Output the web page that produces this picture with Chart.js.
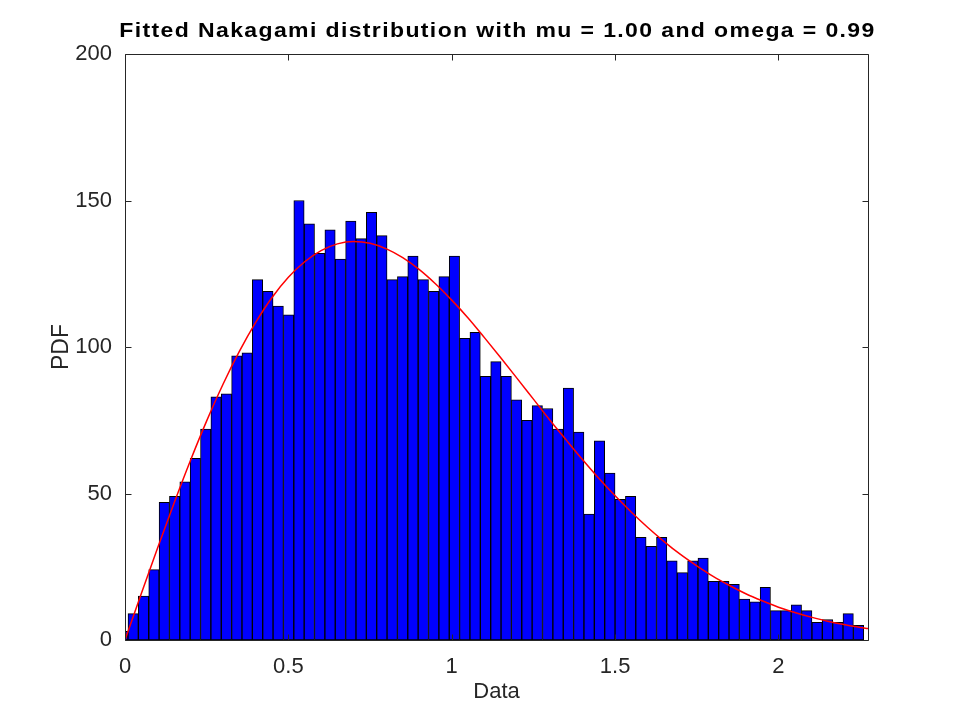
<!DOCTYPE html>
<html>
<head>
<meta charset="utf-8">
<title>Fitted Nakagami distribution</title>
<script src="https://cdn.jsdelivr.net/npm/chart.js@4.4.1/dist/chart.umd.min.js"></script>
<style>
  html, body { margin: 0; padding: 0; background: #ffffff; }
  #wrap { width: 960px; height: 720px; }
</style>
</head>
<body>
<div id="wrap"><canvas id="hist-chart" width="960" height="720"></canvas></div>
<script>
// histogram bins (centres) and counts
const binCenters = [
    -0.0067, 0.0250, 0.0567, 0.0885, 0.1202, 0.1519, 0.1836, 0.2153, 0.2470, 0.2787,
    0.3105, 0.3422, 0.3739, 0.4056, 0.4373, 0.4690, 0.5008, 0.5325, 0.5642, 0.5959,
    0.6276, 0.6593, 0.6911, 0.7228, 0.7545, 0.7862, 0.8179, 0.8496, 0.8813, 0.9131,
    0.9448, 0.9765, 1.0082, 1.0399, 1.0716, 1.1034, 1.1351, 1.1668, 1.1985, 1.2302,
    1.2619, 1.2937, 1.3254, 1.3571, 1.3888, 1.4205, 1.4522, 1.4840, 1.5157, 1.5474,
    1.5791, 1.6108, 1.6425, 1.6742, 1.7060, 1.7377, 1.7694, 1.8011, 1.8328, 1.8645,
    1.8963, 1.9280, 1.9597, 1.9914, 2.0231, 2.0548, 2.0866, 2.1183, 2.1500, 2.1817,
    2.2134, 2.2451
];
const binCounts = [
    3, 9, 15, 24, 47, 49, 54, 62, 72, 83,
    84, 97, 98, 123, 119, 114, 111, 150, 142, 132,
    140, 130, 143, 137, 146, 138, 123, 124, 131, 123,
    119, 124, 131, 103, 105, 90, 95, 90, 82, 75,
    80, 79, 72, 86, 71, 43, 68, 57, 48, 49,
    35, 32, 35, 27, 23, 27, 28, 20, 20, 19,
    14, 13, 18, 10, 10, 12, 10, 6, 7, 6,
    9, 5
];

// fitted curve, points
const fitX = [
    0, 0.05, 0.1, 0.15, 0.2, 0.25, 0.3, 0.35, 0.4, 0.45,
    0.5, 0.55, 0.6, 0.65, 0.7, 0.75, 0.8, 0.85, 0.9, 0.95,
    1.0, 1.05, 1.1, 1.15, 1.2, 1.25, 1.3, 1.35, 1.4, 1.45,
    1.5, 1.55, 1.6, 1.65, 1.7, 1.75, 1.8, 1.85, 1.9, 1.95,
    2.0, 2.05, 2.1, 2.15, 2.2, 2.25, 2.274
];
const fitY = [
    0, 15.9, 31.5, 46.7, 61.2, 74.8, 87.3, 98.5, 108.4, 116.9,
    123.8, 129.1, 132.9, 135.2, 136.0, 135.4, 133.5, 130.5, 126.5, 121.6,
    116.0, 109.9, 103.2, 96.3, 89.3, 82.2, 75.1, 68.3, 61.6, 55.2,
    49.2, 43.6, 38.4, 33.6, 29.2, 25.3, 21.7, 18.6, 15.8, 13.4,
    11.2, 9.4, 7.8, 6.4, 5.3, 4.3, 3.9
];

const xTicks = [0, 0.5, 1, 1.5, 2];
const yTicks = [0, 50, 100, 150, 200];

const chartTitle = 'Fitted Nakagami distribution with mu = 1.00 and omega = 0.99';
const FONT = '"Liberation Sans", Arial, sans-serif';
const AXIS_COLOR = '#262626';

// box around the plot, ticks pointing inwards, and the title
const framePlugin = {
    id: 'frame',
    afterDraw(chart) {
        const { ctx, chartArea: a, scales } = chart;
        const L = a.left + 0.5, R = a.right + 0.5, T = a.top + 0.5, B = a.bottom + 0.5;
        const len = 6;
        ctx.save();
        ctx.strokeStyle = AXIS_COLOR;
        ctx.lineWidth = 1;
        ctx.beginPath();
        ctx.rect(L, T, R - L, B - T);
        xTicks.forEach(v => {
            const px = Math.round(scales.x.getPixelForValue(v)) + 0.5;
            ctx.moveTo(px, B); ctx.lineTo(px, B - len);
            ctx.moveTo(px, T); ctx.lineTo(px, T + len);
        });
        yTicks.forEach(v => {
            const py = Math.round(scales.y.getPixelForValue(v)) + 0.5;
            ctx.moveTo(L, py); ctx.lineTo(L + len, py);
            ctx.moveTo(R, py); ctx.lineTo(R - len, py);
        });
        ctx.stroke();

        // the original title font runs wider than Liberation Sans, so stretch it a bit
        ctx.fillStyle = '#000000';
        ctx.font = 'bold 20px ' + FONT;
        ctx.letterSpacing = '1.2px';
        ctx.textAlign = 'center';
        ctx.textBaseline = 'alphabetic';
        ctx.translate((a.left + a.right) / 2 + 1, 36.5);
        ctx.scale(1.15, 1);
        ctx.fillText(chartTitle, 0, 0);
        ctx.restore();
    }
};

function initializeHistogram() {
    const ctx = document.getElementById('hist-chart');
    if (!ctx) {
        console.error('Canvas hist-chart no encontrado');
        return;
    }

    const barData = binCenters.map((c, i) => ({ x: c, y: binCounts[i] }));
    const lineData = fitX.map((v, i) => ({ x: v, y: fitY[i] }));

    new Chart(ctx, {
        type: 'bar',
        data: {
            datasets: [
                {
                    type: 'line',
                    label: 'fit',
                    data: lineData,
                    borderColor: '#ff0000',
                    borderWidth: 1.5,
                    pointRadius: 0,
                    fill: false,
                    cubicInterpolationMode: 'monotone',
                    order: 0
                },
                {
                    type: 'bar',
                    label: 'Data',
                    data: barData,
                    backgroundColor: '#0000ff',
                    borderColor: '#000000',
                    borderWidth: 1,
                    borderSkipped: false,
                    barPercentage: 1,
                    categoryPercentage: 1,
                    order: 1
                }
            ]
        },
        options: {
            responsive: false,
            devicePixelRatio: 1,
            animation: false,
            layout: {
                padding: { top: 54, right: 92, left: 0, bottom: 0 }
            },
            plugins: {
                legend: { display: false },
                title: { display: false },
                tooltip: { enabled: false }
            },
            scales: {
                x: {
                    type: 'linear',
                    min: 0,
                    max: 2.274,
                    offset: false,
                    grid: { display: false, drawTicks: false },
                    border: { display: false },
                    afterBuildTicks: scale => { scale.ticks = xTicks.map(v => ({ value: v })); },
                    afterFit: scale => { scale.height = 80; },
                    ticks: {
                        padding: 14,
                        color: AXIS_COLOR,
                        maxRotation: 0,
                        font: { family: FONT, size: 22 },
                        callback: v => String(v)
                    },
                    title: {
                        display: true,
                        text: 'Data',
                        color: AXIS_COLOR,
                        font: { family: FONT, size: 22 },
                        padding: { top: 0, bottom: 15 }
                    }
                },
                y: {
                    min: 0,
                    max: 200,
                    grid: { display: false, drawTicks: false },
                    border: { display: false },
                    afterBuildTicks: scale => { scale.ticks = yTicks.map(v => ({ value: v })); },
                    afterFit: scale => { scale.width = 125; },
                    ticks: {
                        padding: 13,
                        color: AXIS_COLOR,
                        font: { family: FONT, size: 22 }
                    },
                    title: {
                        display: true,
                        text: 'PDF',
                        color: AXIS_COLOR,
                        font: { family: FONT, size: 23 },
                        padding: { top: 48, bottom: 0 }
                    }
                }
            }
        },
        plugins: [framePlugin]
    });
}

initializeHistogram();
</script>
</body>
</html>
